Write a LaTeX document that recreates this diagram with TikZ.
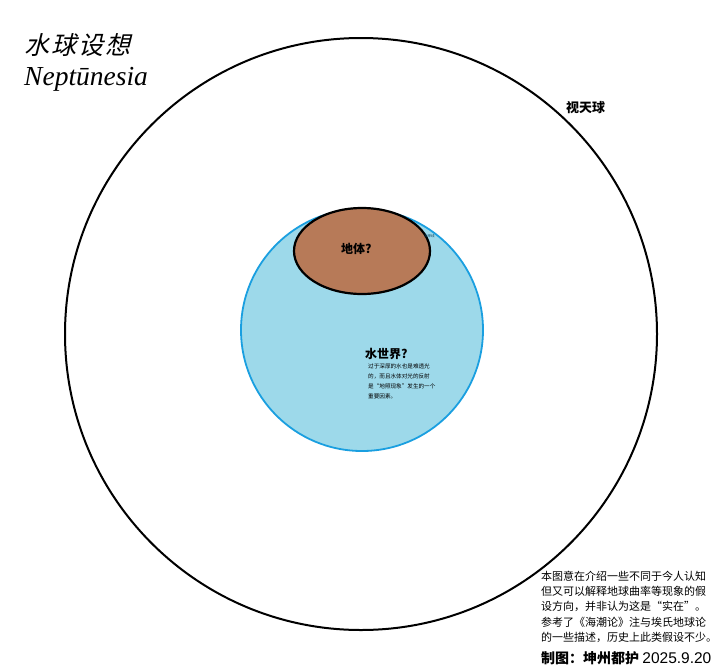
\documentclass[tikz,border=0pt]{standalone}
\usepackage{fontspec}
\usetikzlibrary{shapes.geometric}
\setmainfont{Liberation Serif}
\newfontfamily\cjk{Noto Sans CJK SC}
\newfontfamily\cjkslant[FakeSlant=0.25,LetterSpace=8]{Noto Sans CJK SC}
\definecolor{waterfill}{HTML}{9DD9EA}
\definecolor{waterline}{HTML}{1A9FE0}
\definecolor{landfill}{HTML}{B77A58}
\tikzset{
  sphere/.style={draw=black, line width=2pt},
  water/.style={draw=waterline, fill=waterfill, line width=1.8pt},
  land/.style={draw=black, fill=landfill, line width=2.2pt},
  label/.style={inner sep=0pt, font=\cjk\bfseries},
  para/.style={inner sep=0pt, align=left},
}
\begin{document}
\begin{tikzpicture}[x=1pt,y=-1pt]
\useasboundingbox (0,0) rectangle (720,667);
\fill[white] (0,0) rectangle (720,667);
% sky sphere
\node[sphere, circle, minimum size=592pt, inner sep=0pt] (sky) at (361,334) {};
% water world
\node[water, circle, minimum size=242pt, inner sep=0pt] (waterworld) at (362,330) {};
% land
\node[land, ellipse, minimum width=136pt, minimum height=86pt, inner sep=0pt] (land) at (362,251) {};
% titles
\node[inner sep=0pt, anchor=west, font=\cjkslant\fontsize{25}{30}\selectfont] (title) at (24,45) {水球设想};
\node[inner sep=0pt, anchor=base west, font=\itshape\fontsize{27.5}{30}\selectfont] (subtitle) at (24,85) {Neptūnesia};
% labels
\node[label, anchor=west, font=\cjk\bfseries\fontsize{13}{15}\selectfont] (skylabel) at (566,108) {视天球};
\node[label, anchor=west, font=\cjk\bfseries\fontsize{12}{14}\selectfont] (landlabel) at (341,249) {地体?};
\node[inner sep=0pt, anchor=west, text=waterline!40!black, font=\cjk\fontsize{3.5}{4}\selectfont] (coast) at (424,236) {海岸线};
\node[label, anchor=west, font=\cjk\bfseries\fontsize{12}{14}\selectfont] (waterlabel) at (365,354) {水世界?};
\node[para, anchor=north west, font=\cjk\fontsize{5.6}{10}\selectfont] (waternote) at (368,364) {过于深厚的水也是难透光\\的，而且水体对光的反射\\是“地照现象”发生的一个\\重要因素。};
% note
\node[para, anchor=north west, font=\cjk\fontsize{11}{15.2}\selectfont] (note) at (541,571) {本图意在介绍一些不同于今人认知\\但又可以解释地球曲率等现象的假\\设方向，并非认为这是“实在”。\\参考了《海潮论》注与埃氏地球论\\的一些描述，历史上此类假设不少。};
\node[inner sep=0pt, anchor=west, font=\cjk\bfseries\fontsize{14}{16}\selectfont] (credit) at (541,658) {制图：坤州都护 \fontspec{Liberation Sans}\mdseries\fontsize{15.5}{16}\selectfont 2025.9.20};
\end{tikzpicture}
\end{document}
